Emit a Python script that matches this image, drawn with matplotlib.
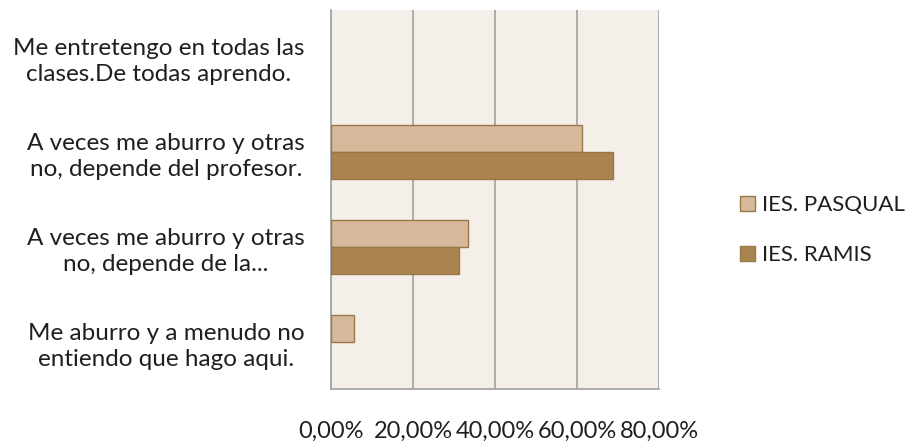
import numpy as np
import matplotlib
matplotlib.use('Agg')
import matplotlib.pyplot as plt
from matplotlib.ticker import FuncFormatter

plt.rcParams['font.family'] = ['Lato', 'DejaVu Sans']

categorias = [
    'Me entretengo en todas las\nclases.De todas aprendo.',
    'A veces me aburro y otras\nno, depende del profesor.',
    'A veces me aburro y otras\nno, depende de la...',
    'Me aburro y a menudo no\nentiendo que hago aqui.',
]
pasqual = [0.0, 0.611, 0.333, 0.056]
ramis = [0.0, 0.688, 0.313, 0.0]
series = ['IES. PASQUAL', 'IES. RAMIS']

col_pasqual = '#D5B99A'
col_ramis = '#A9844F'
col_borde = '#9A7746'
col_texto = '#1F1F1F'

fig = plt.figure(figsize=(9.13, 4.43), dpi=100)
ax = fig.add_axes([0.3625, 0.1219, 0.3593, 0.8555])
ax.set_facecolor('#F5EFEA')

y = np.arange(len(categorias))
h = 0.285
b1 = ax.barh(y - h / 2, pasqual, height=h, color=col_pasqual, edgecolor=col_borde,
             linewidth=[1 if v > 0 else 0 for v in pasqual], label=series[0], zorder=3)
b2 = ax.barh(y + h / 2, ramis, height=h, color=col_ramis, edgecolor=col_borde,
             linewidth=[1 if v > 0 else 0 for v in ramis], label=series[1], zorder=3)

ax.set_ylim(3.5, -0.5)
ax.set_xlim(0, 0.8)
ax.set_xticks([0, 0.2, 0.4, 0.6, 0.8])
ax.xaxis.set_major_formatter(FuncFormatter(lambda v, p: f'{v*100:.2f}%'.replace('.', ',')))
ax.grid(axis='x', color='#A6A6A6', linewidth=1.3, zorder=1)
ax.set_axisbelow(True)

ax.set_yticks(y)
ax.set_yticklabels(categorias, fontsize=17.5, color=col_texto,
                   ha='right', multialignment='center', linespacing=1.3)
ax.tick_params(axis='y', length=0, pad=19)
ax.tick_params(axis='x', length=0, pad=23, labelsize=17, labelcolor=col_texto)

for s in ['top', 'right']:
    ax.spines[s].set_visible(False)
for s in ['left', 'bottom']:
    ax.spines[s].set_color('#A6A6A6')
    ax.spines[s].set_linewidth(1.3)

leg = fig.legend(handles=[b1, b2], labels=series, loc='center left',
                 bbox_to_anchor=(0.811, 0.481), frameon=False, fontsize=16,
                 handlelength=0.65, handleheight=0.65, handletextpad=0.3,
                 labelspacing=1.35, labelcolor=col_texto, borderaxespad=0,
                 borderpad=0)
for p in leg.get_patches():
    p.set_linewidth(1)

fig.savefig('out.png', dpi=100)
